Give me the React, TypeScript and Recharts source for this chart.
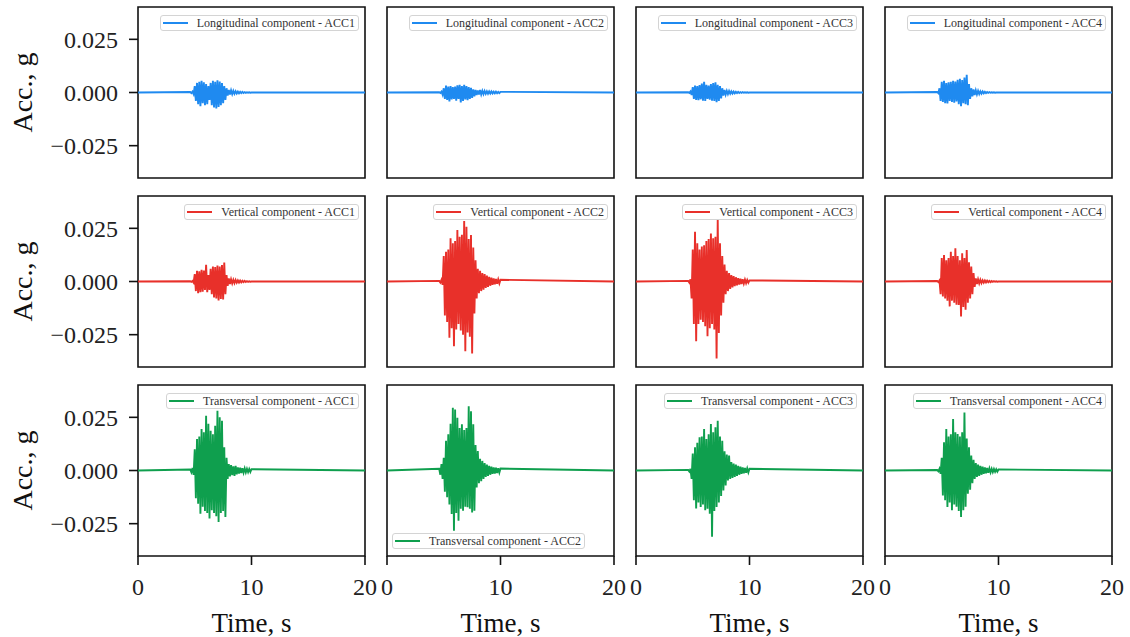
import React from "react";
import { LineChart, Line, XAxis, YAxis, ReferenceArea } from "recharts";

// sample times, s (signal is flat outside 4.6 - 10 s)
const time = [
  0, 4.6, 4.7, 4.8, 4.9, 5.0, 5.1, 5.2, 5.3, 5.4, 5.5, 5.6, 5.7, 5.8, 5.9,
  6.0, 6.1, 6.2, 6.3, 6.4, 6.5, 6.6, 6.7, 6.8, 6.9, 7.0, 7.1, 7.2, 7.3, 7.4,
  7.5, 7.6, 7.7, 7.8, 7.9, 8.0, 8.1, 8.2, 8.3, 8.4, 8.5, 8.6, 8.7, 8.8, 8.9,
  9.0, 9.1, 9.2, 9.3, 9.4, 9.5, 9.6, 9.7, 9.8, 9.9, 10.0, 20,
];

// accelerations, g
const longAcc1 = [
  0,
  0.0002, -0.0003, 0.0004, -0.0008,
  0.003, -0.004, 0.0045, -0.0055, 0.005,
  -0.0065, 0.0055, -0.005, 0.0048, -0.006,
  0.004, -0.0055, 0.003, -0.0035, 0.0045,
  -0.006, 0.0055, -0.007, 0.005, -0.0075,
  0.0057, -0.0068, 0.0052, -0.006, 0.0045,
  -0.005, 0.003, -0.0035, 0.002, -0.0015,
  0.0012, -0.001, 0.001, -0.0008, 0.0008,
  -0.0006, 0.0006, -0.0005, 0.0004, -0.0004,
  0.0003, -0.0003, 0.0003, -0.0002, 0.0002,
  -0.0002, 0.0001, -0.0001, 0.0001, -0.0001,
  0,
  0,
];
const longAcc2 = [
  0,
  0.0001, -0.0002, 0.0004, -0.001,
  0.002, -0.003, 0.0032, -0.0035, 0.0028,
  -0.0042, 0.003, -0.0033, 0.0025, -0.003,
  0.0028, -0.0038, 0.0034, -0.003, 0.0036,
  -0.0047, 0.003, -0.004, 0.0036, -0.0032,
  0.003, -0.0036, 0.0025, -0.003, 0.0022,
  -0.0025, 0.0015, -0.0018, 0.0012, -0.0012,
  0.001, -0.001, 0.0012, -0.0009, 0.0008,
  -0.0008, 0.0007, -0.0006, 0.0006, -0.0006,
  0.0005, -0.0005, 0.0005, -0.0004, 0.0004,
  -0.0004, 0.0004, -0.0003, 0.0003, -0.0003,
  0.0003,
  0,
];
const longAcc3 = [
  0,
  0.0001, -0.0002, 0.0005, -0.0012,
  0.0025, -0.003, 0.0032, -0.0035, 0.003,
  -0.0036, 0.0035, -0.0032, 0.0042, -0.0038,
  0.005, -0.004, 0.0036, -0.003, 0.0032,
  -0.0034, 0.004, -0.0038, 0.0044, -0.004,
  0.0048, -0.0045, 0.0036, -0.004, 0.003,
  -0.0028, 0.002, -0.0015, 0.0012, -0.001,
  0.0008, -0.0008, 0.0007, -0.0006, 0.0005,
  -0.0005, 0.0004, -0.0004, 0.0003, -0.0003,
  0.0003, -0.0002, 0.0002, -0.0002, 0.0002,
  -0.0001, 0.0001, -0.0001, 0.0001, -0.0001,
  0,
  0,
];
const longAcc4 = [
  0,
  0.0002, -0.0003, 0.002, -0.004,
  0.005, -0.0045, 0.0055, -0.005, 0.0045,
  -0.0052, 0.0048, -0.004, 0.005, -0.0045,
  0.0055, -0.0048, 0.0052, -0.0042, 0.006,
  -0.0055, 0.0065, -0.0064, 0.0058, -0.005,
  0.007, -0.0055, 0.0083, -0.006, 0.004,
  -0.003, 0.002, -0.0018, 0.0015, -0.0012,
  0.001, -0.0009, 0.0008, -0.0007, 0.0006,
  -0.0005, 0.0005, -0.0004, 0.0003, -0.0003,
  0.0002, -0.0002, 0.0002, -0.0001, 0.0001,
  -0.0001, 0.0001, -0.0001, 0, 0,
  0,
  0,
];

const vertAcc1 = [
  0,
  0.0001, -0.0002, 0.0003, -0.0005,
  0.0035, -0.0045, 0.005, -0.0055, 0.0048,
  -0.005, 0.0055, -0.0048, 0.0052, -0.004,
  0.0078, -0.005, 0.003, -0.004, 0.006,
  -0.006, 0.007, -0.0075, 0.0068, -0.008,
  0.0075, -0.0089, 0.007, -0.0082, 0.0078,
  -0.0085, 0.0089, -0.006, 0.003, -0.002,
  0.0015, -0.0012, 0.001, -0.0009, 0.0008,
  -0.0008, 0.0007, -0.0006, 0.0005, -0.0005,
  0.0004, -0.0004, 0.0003, -0.0003, 0.0003,
  -0.0002, 0.0002, -0.0002, 0.0001, -0.0001,
  0,
  0,
];
const vertAcc2 = [
  0,
  0.0003, -0.0005, 0.0008, -0.0015,
  0.012, -0.016, 0.014, -0.019, 0.015,
  -0.0265, 0.0203, -0.022, 0.018, -0.0304,
  0.019, -0.0226, 0.0242, -0.02, 0.021,
  -0.023, 0.022, -0.025, 0.0284, -0.0328,
  0.0257, -0.024, 0.02, -0.026, 0.0218,
  -0.0338, 0.016, -0.015, 0.01, -0.008,
  0.006, -0.0055, 0.005, -0.0045, 0.004,
  -0.0038, 0.0035, -0.003, 0.0028, -0.0025,
  0.0022, -0.002, 0.0018, -0.0016, 0.0015,
  -0.0013, 0.0012, -0.0011, 0.001, -0.0009,
  0.0008,
  0,
];
const vertAcc3 = [
  0,
  0.0003, -0.0005, 0.001, -0.008,
  0.015, -0.02, 0.0234, -0.0281, 0.018,
  -0.02, 0.015, -0.018, 0.0164, -0.019,
  0.017, -0.021, 0.019, -0.0257, 0.02,
  -0.022, 0.0226, -0.02, 0.0203, -0.0226,
  0.021, -0.0362, 0.0292, -0.0242, 0.018,
  -0.016, 0.012, -0.01, 0.008, -0.006,
  0.005, -0.0045, 0.004, -0.0035, 0.003,
  -0.0028, 0.0025, -0.0022, 0.002, -0.0018,
  0.0016, -0.0014, 0.0013, -0.0012, 0.0011,
  -0.001, 0.0009, -0.0008, 0.0007, -0.0006,
  0.0005,
  0,
];
const vertAcc4 = [
  0,
  0.0002, -0.0003, 0.0005, -0.006,
  0.011, -0.007, 0.0125, -0.008, 0.01,
  -0.009, 0.011, -0.0117, 0.014, -0.009,
  0.012, -0.01, 0.0156, -0.0109, 0.012,
  -0.011, 0.01, -0.0164, 0.0133, -0.012,
  0.011, -0.0133, 0.0148, -0.01, 0.009,
  -0.008, 0.007, -0.006, 0.004, -0.0025,
  0.0015, -0.0012, 0.001, -0.0009, 0.0008,
  -0.0007, 0.0006, -0.0005, 0.0005, -0.0004,
  0.0004, -0.0003, 0.0003, -0.0003, 0.0002,
  -0.0002, 0.0002, -0.0001, 0.0001, -0.0001,
  0,
  0,
];

const transAcc1 = [
  0,
  0.0005, -0.0008, 0.0012, -0.002,
  0.01, -0.013, 0.0148, -0.0156, 0.016,
  -0.0203, 0.0195, -0.017, 0.018, -0.019,
  0.0257, -0.02, 0.022, -0.0226, 0.0187,
  -0.0187, 0.017, -0.02, 0.021, -0.0215,
  0.0281, -0.0242, 0.025, -0.02, 0.0234,
  -0.019, 0.0109, -0.0218, 0.006, -0.004,
  0.003, -0.0028, 0.0025, -0.0022, 0.002,
  -0.0025, 0.0022, -0.0018, 0.0015, -0.0014,
  0.0013, -0.0012, 0.0011, -0.001, 0.001,
  -0.0009, 0.0008, -0.0008, 0.0007, -0.0007,
  0.0006,
  0,
];
const transAcc2 = [
  0,
  0.0008, -0.002, 0.003, -0.004,
  0.006, -0.01, 0.014, -0.0126, 0.017,
  -0.016, 0.022, -0.0205, 0.0295, -0.0283,
  0.0287, -0.02, 0.0248, -0.0236, 0.02,
  -0.018, 0.0217, -0.0189, 0.019, -0.017,
  0.02, -0.0173, 0.0302, -0.018, 0.0279,
  -0.0197, 0.0217, -0.0189, 0.012, -0.008,
  0.0092, -0.006, 0.0055, -0.005, 0.0045,
  -0.004, 0.0035, -0.003, 0.0028, -0.0025,
  0.0022, -0.002, 0.0018, -0.0016, 0.0015,
  -0.0014, 0.0013, -0.0012, 0.0011, -0.001,
  0.0009,
  0,
];
const transAcc3 = [
  0,
  0.0003, -0.0005, 0.0008, -0.004,
  0.008, -0.014, 0.0109, -0.0179, 0.013,
  -0.015, 0.0156, -0.0172, 0.016, -0.016,
  0.0195, -0.0187, 0.0148, -0.018, 0.017,
  -0.0203, 0.0218, -0.0312, 0.018, -0.019,
  0.0203, -0.0172, 0.0234, -0.015, 0.016,
  -0.012, 0.014, -0.0094, 0.009, -0.007,
  0.0075, -0.0047, 0.007, -0.004, 0.004,
  -0.0035, 0.0032, -0.003, 0.0028, -0.0025,
  0.0022, -0.002, 0.0018, -0.0016, 0.0015,
  -0.0013, 0.0012, -0.0011, 0.001, -0.0009,
  0.0008,
  0,
];
const transAcc4 = [
  0,
  0.0002, -0.0004, 0.0008, -0.0015,
  0.006, -0.0117, 0.0133, -0.014, 0.0195,
  -0.0172, 0.016, -0.015, 0.017, -0.0187,
  0.0242, -0.016, 0.018, -0.017, 0.0172,
  -0.019, 0.016, -0.0218, 0.018, -0.0187,
  0.0273, -0.017, 0.015, -0.0109, 0.0109,
  -0.009, 0.007, -0.006, 0.005, -0.004,
  0.0035, -0.003, 0.0028, -0.0025, 0.0022,
  -0.002, 0.0018, -0.0016, 0.0015, -0.0013,
  0.0012, -0.0011, 0.001, -0.0009, 0.0008,
  -0.0008, 0.0007, -0.0006, 0.0006, -0.0005,
  0.0005,
  0,
];

const components = ["Longitudinal", "Vertical", "Transversal"];
const sensors = ["ACC1", "ACC2", "ACC3", "ACC4"];
const colours = ["#1f8af0", "#e8302a", "#0f9f4e"];
const timeTicks = [0, 10, 20];
const accTicks = [-0.025, 0, 0.025];

const series = [
  [longAcc1, longAcc2, longAcc3, longAcc4],
  [vertAcc1, vertAcc2, vertAcc3, vertAcc4],
  [transAcc1, transAcc2, transAcc3, transAcc4],
];

const LIM = 0.0402;
const colLeft = [138, 387, 636, 885];
const rowTop = [7, 196, 385];
const PW = 227;
const PH = 171;
const M = { top: 4, right: 16, bottom: 4, left: 16 };
const FONT = '"Liberation Serif", "Times New Roman", serif';

function fmtAcc(v: number) {
  if (v === 0) return "0.000";
  return (v < 0 ? "\u2212" : "") + Math.abs(v).toFixed(3);
}

function Panel({ row, col }: { row: number; col: number }) {
  const showY = col === 0;
  const showX = row === 2;
  const yW = showY ? 120 : 0;
  const xH = showX ? 78 : 0;
  const width = PW + M.left + M.right + yW;
  const height = PH + M.top + M.bottom + xH;
  const left = colLeft[col] - M.left - yW;
  const top = rowTop[row] - M.top;
  const values = series[row][col];
  const data = time.map((t, i) => ({ t, acc: values[i] }));
  const colour = colours[row];
  const legendLow = row === 2 && col === 1;
  const legendPos = legendLow
    ? { top: M.top + 148, left: M.left + yW + 5 }
    : { top: M.top + 8, right: M.right + 6 };

  return (
    <div style={{ position: "absolute", left, top, width, height }}>
      <LineChart width={width} height={height} data={data} margin={M}>
        <XAxis
          dataKey="t"
          type="number"
          domain={[0, 20]}
          ticks={timeTicks}
          interval={0}
          allowDataOverflow
          hide={!showX}
          height={xH}
          axisLine={false}
          tickSize={9}
          tickMargin={13}
          tickLine={{ stroke: "#111", strokeWidth: 1.6 }}
          tick={{ fontSize: 24, fontFamily: FONT, fill: "#222" }}
          label={
            showX
              ? {
                  value: "Time, s",
                  position: "insideBottom",
                  offset: 2,
                  fontSize: 27,
                  fontFamily: FONT,
                  fill: "#111",
                }
              : undefined
          }
        />
        <YAxis
          type="number"
          domain={[-LIM, LIM]}
          ticks={accTicks}
          interval={0}
          allowDataOverflow
          hide={!showY}
          width={yW}
          axisLine={false}
          tickSize={9}
          tickMargin={11}
          tickFormatter={fmtAcc}
          tickLine={{ stroke: "#111", strokeWidth: 1.6 }}
          tick={{ fontSize: 24, fontFamily: FONT, fill: "#222" }}
          label={
            showY
              ? {
                  value: "Acc., g",
                  angle: -90,
                  position: "insideLeft",
                  offset: 4,
                  fontSize: 28,
                  fontFamily: FONT,
                  fill: "#111",
                  style: { textAnchor: "middle" },
                }
              : undefined
          }
        />
        <ReferenceArea
          x1={0}
          x2={20}
          y1={-LIM}
          y2={LIM}
          fill="none"
          stroke="#111"
          strokeWidth={1.6}
        />
        <Line
          type="linear"
          dataKey="acc"
          stroke={colour}
          strokeWidth={1.9}
          strokeLinejoin="miter"
          dot={false}
          isAnimationActive={false}
        />
      </LineChart>
      <div
        style={{
          position: "absolute",
          ...legendPos,
          display: "flex",
          alignItems: "center",
          height: 16,
          boxSizing: "border-box",
          padding: "0 3px 0 2px",
          border: "1px solid #d4d4d4",
          borderRadius: 3,
          background: "rgba(255,255,255,0.8)",
          fontFamily: FONT,
          fontSize: 12,
          lineHeight: "13px",
          color: "#333",
          whiteSpace: "nowrap",
        }}
      >
        <span
          style={{
            display: "inline-block",
            width: 25,
            height: 1.5,
            background: colour,
            marginRight: 9,
          }}
        />
        {components[row]} component - {sensors[col]}
      </div>
    </div>
  );
}

export default function App() {
  return (
    <div
      style={{
        position: "absolute",
        left: 0,
        top: 0,
        width: 1130,
        height: 637,
        background: "#fff",
        overflow: "hidden",
      }}
    >
      {components.map((_, r) =>
        sensors.map((__, c) => <Panel key={`${r}-${c}`} row={r} col={c} />)
      )}
    </div>
  );
}
